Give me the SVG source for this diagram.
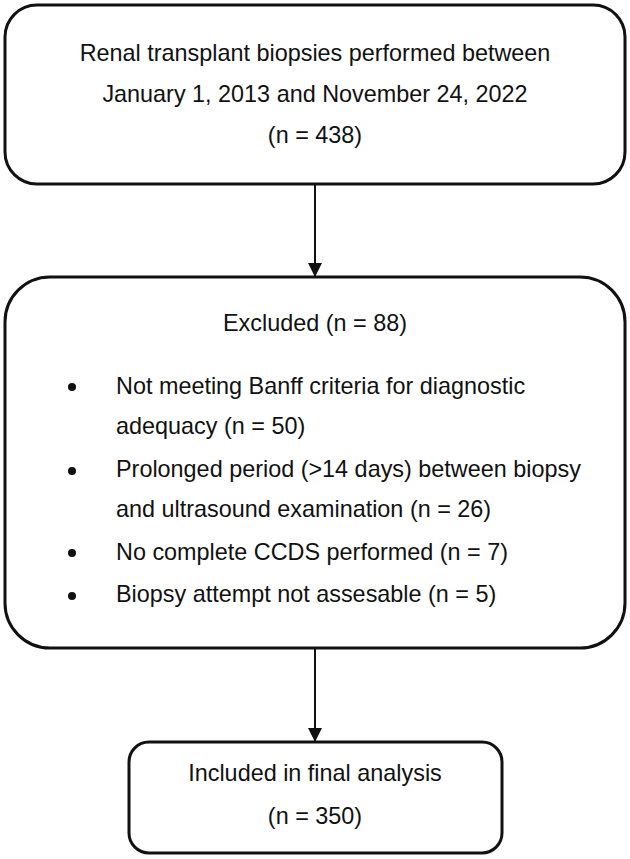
<svg xmlns="http://www.w3.org/2000/svg" width="630" height="859" viewBox="0 0 630 859">
<style>
.box{fill:#fff;stroke:#111;stroke-width:3}
.t{font-family:"Liberation Sans",Arial,sans-serif;font-size:23.4px;fill:#111}
.c{text-anchor:middle}
.conn{stroke:#111;stroke-width:2}
</style>
<defs>
<marker id="ah" markerWidth="14" markerHeight="14" refX="13" refY="7" orient="auto" markerUnits="userSpaceOnUse">
<path d="M0,0 L14,7 L0,14 Z" fill="#111"/>
</marker>
</defs>
<rect width="630" height="859" fill="#fff"/>
<g id="connectors">
<line class="conn" x1="315" y1="185" x2="315" y2="276" marker-end="url(#ah)"/>
<line class="conn" x1="315" y1="649" x2="315" y2="741" marker-end="url(#ah)"/>
</g>
<g id="node-biopsies">
<rect class="box" x="5" y="5" width="620" height="179" rx="32"/>
<text class="t c" x="315" y="61">Renal transplant biopsies performed between</text>
<text class="t c" x="315" y="102">January 1, 2013 and November 24, 2022</text>
<text class="t c" x="315" y="143">(n = 438)</text>
</g>
<g id="node-excluded">
<rect class="box" x="5" y="277" width="620" height="371" rx="45"/>
<text class="t c" x="315" y="331">Excluded (n = 88)</text>
<g fill="#111">
<circle cx="72" cy="387" r="4"/>
<circle cx="72" cy="471" r="4"/>
<circle cx="72" cy="553" r="4"/>
<circle cx="72" cy="596" r="4"/>
</g>
<text class="t" x="116" y="394">Not meeting Banff criteria for diagnostic</text>
<text class="t" x="116" y="434">adequacy (n = 50)</text>
<text class="t" x="116" y="477">Prolonged period (&gt;14 days) between biopsy</text>
<text class="t" x="116" y="517">and ultrasound examination (n = 26)</text>
<text class="t" x="116" y="560">No complete CCDS performed (n = 7)</text>
<text class="t" x="116" y="602">Biopsy attempt not assesable (n = 5)</text>
</g>
<g id="node-included">
<rect class="box" x="129" y="742" width="373" height="111" rx="20"/>
<text class="t c" x="315" y="781">Included in final analysis</text>
<text class="t c" x="315" y="824">(n = 350)</text>
</g>
</svg>
